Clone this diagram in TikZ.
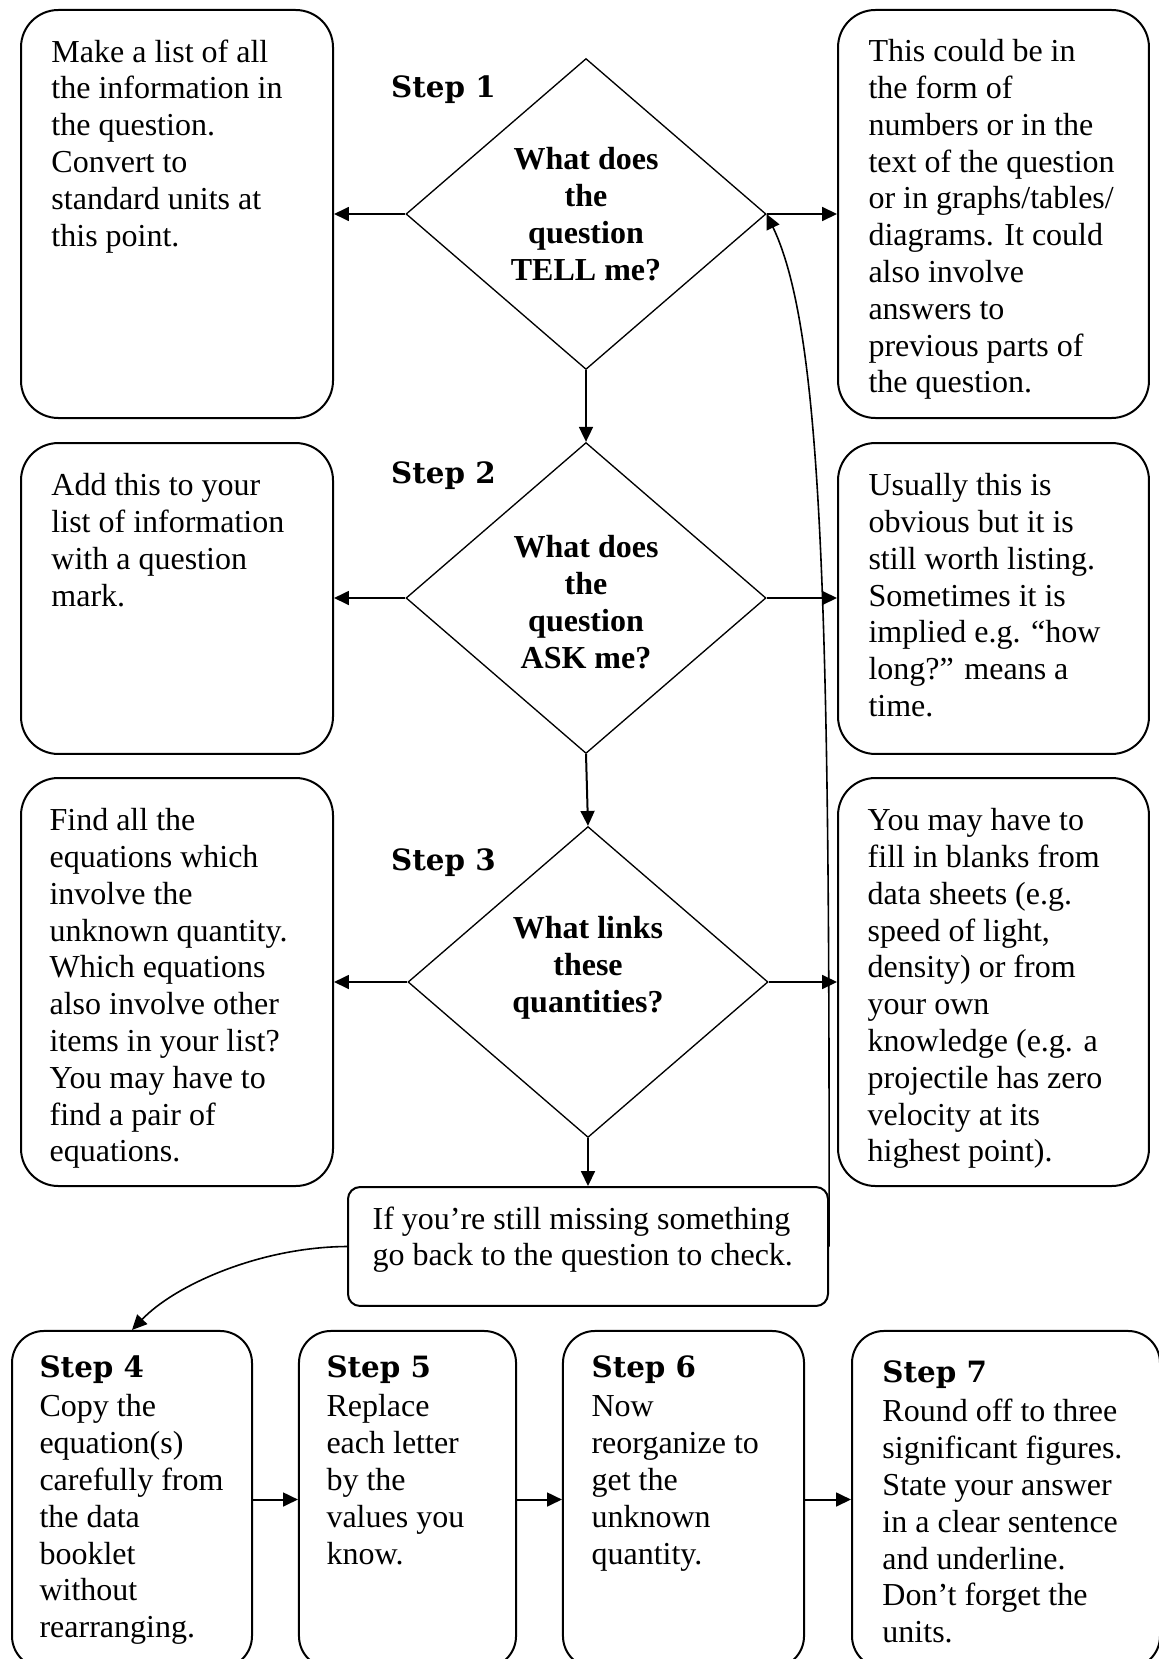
\documentclass[tikz,border=0pt]{standalone}
\usepackage{fontspec}
\setmainfont{Liberation Serif}
\newfontfamily\stepfont{DejaVu Serif}
\usetikzlibrary{shapes.geometric, arrows.meta, positioning}

\newcommand{\stephead}[1]{{\stepfont\bfseries\fontsize{11pt}{13.8pt}\selectfont #1}\\[1pt]}

\tikzset{
  infobox/.style={draw, line width=0.75pt, rounded corners=14pt, inner sep=0pt},
  stepbox/.style={infobox, rounded corners=12pt, minimum height=126.4pt},
  infotext/.style={inner sep=0pt, align=left, font=\fontsize{12pt}{13.8pt}\selectfont},
  decision/.style={draw, shape=diamond, line width=0.5pt, minimum width=135pt, minimum height=116.6pt, inner sep=0pt},
  question/.style={inner sep=0pt, align=center, font=\bfseries\fontsize{12pt}{13.8pt}\selectfont},
  steplabel/.style={anchor=base, inner sep=0pt, font=\stepfont\bfseries\fontsize{11pt}{13.8pt}\selectfont},
  link/.style={-{Triangle[length=5.6pt,width=5.2pt]}, line width=0.75pt},
  backlink/.style={-{Triangle[length=5.6pt,width=5.2pt]}, line width=0.6pt}
}

\begin{document}
\begin{tikzpicture}[x=0.375pt,y=-0.375pt]
\useasboundingbox (0,0) rectangle (1158,1659);

% questions
\node[decision, label={[question]center:What does\\the\\question\\TELL me?}] (d1) at (586,214) {};
\node[decision, label={[question,yshift=-1.5pt]center:What does\\the\\question\\ASK me?}] (d2) at (586,598) {};
\node[decision, label={[question,yshift=5.25pt]center:What links\\these\\quantities?}] (d3) at (588,982) {};

\node[steplabel] (s1) at (443.5,98) {Step 1};
\node[steplabel] (s2) at (443.5,483) {Step 2};
\node[steplabel] (s3) at (443.5,870) {Step 3};

% left column
\node[infobox, minimum width=117pt, minimum height=153pt] (l1) at (177,214) {};
\node[infotext, below right=11.25pt and 11.6pt of l1.north west] (l1t) {Make a list of all\\the information in\\the question.\\Convert to\\standard units at\\this point.};
\node[infobox, minimum width=117pt, minimum height=116.6pt] (l2) at (177,598.5) {};
\node[infotext, below right=11.6pt and 11.6pt of l2.north west] (l2t) {Add this to your\\list of information\\with a question\\mark.};
\node[infobox, minimum width=117pt, minimum height=153pt] (l3) at (177,982) {};
\node[infotext, below right=11.6pt and 10.9pt of l3.north west] (l3t) {Find all the\\equations which\\involve the\\unknown quantity.\\Which equations\\also involve other\\items in your list?\\You may have to\\find a pair of\\equations.};

% right column
\node[infobox, minimum width=116.6pt, minimum height=153pt] (r1) at (993.5,214) {};
\node[infotext, below right=11.25pt and 11.6pt of r1.north west] (r1t) {This could be in\\the form of\\numbers or in the\\text of the question\\or in graphs/tables/\\diagrams. It could\\also involve\\answers to\\previous parts of\\the question.};
\node[infobox, minimum width=116.6pt, minimum height=116.6pt] (r2) at (993.5,598.5) {};
\node[infotext, below right=11.6pt and 11.6pt of r2.north west] (r2t) {Usually this is\\obvious but it is\\still worth listing.\\Sometimes it is\\implied e.g. “how\\long?” means a\\time.};
\node[infobox, minimum width=116.6pt, minimum height=153pt] (r3) at (993.5,982) {};
\node[infotext, below right=11.6pt and 11.3pt of r3.north west] (r3t) {You may have to\\fill in blanks from\\data sheets (e.g.\\speed of light,\\density) or from\\your own\\knowledge (e.g. a\\projectile has zero\\velocity at its\\highest point).};

% missing something
\node[infobox, rounded corners=4.5pt, minimum width=180pt, minimum height=44.6pt] (m) at (588,1246.5) {};
\node[infotext, below right=7.5pt and 9.4pt of m.north west] (mt) {If you’re still missing something\\go back to the question to check.};

% steps 4 to 7
\node[stepbox, minimum width=90pt] (b4) at (132,1499.5) {};
\node[infotext, below right=9.4pt and 10.5pt of b4.north west] (b4t) {\stephead{Step 4}Copy the\\equation(s)\\carefully from\\the data\\booklet\\without\\rearranging.};
\node[stepbox, minimum width=81.4pt] (b5) at (407.5,1499.5) {};
\node[infotext, below right=9.4pt and 10.5pt of b5.north west] (b5t) {\stephead{Step 5}Replace\\each letter\\by the\\values you\\know.};
\node[stepbox, minimum width=90.4pt] (b6) at (683.5,1499.5) {};
\node[infotext, below right=9.4pt and 10.9pt of b6.north west] (b6t) {\stephead{Step 6}Now\\reorganize to\\get the\\unknown\\quantity.};
\node[stepbox, minimum width=115.5pt] (b7) at (1006,1499.5) {};
\node[infotext, below right=11.3pt and 11.6pt of b7.north west] (b7t) {\stephead{Step 7}Round off to three\\significant figures.\\State your answer\\in a clear sentence\\and underline.\\Don’t forget the\\units.};

% connectors
\draw[link] (d1.south) -- (d2.north);
\draw[link] (d2.south) -- (d3.north);
\draw[link] (d3.south) -- (d3.south |- m.north);
\draw[link] (d1.west) -- (d1.west -| l1.east);
\draw[link] (d2.west) -- (d2.west -| l2.east);
\draw[link] (d3.west) -- (d3.west -| l3.east);
\draw[link] (d1.east) -- (d1.east -| r1.west);
\draw[link] (d2.east) -- (d2.east -| r2.west);
\draw[link] (d3.east) -- (d3.east -| r3.west);
\draw[backlink] (m.east) .. controls (830,600) and (822,330) .. (d1.east);
\draw[backlink] (m.west) .. controls (260,1247) and (175,1285) .. (b4.north);
\draw[link] (b4.east) -- (b5.west);
\draw[link] (b5.east) -- (b6.west);
\draw[link] (b6.east) -- (b7.west);
\end{tikzpicture}
\end{document}
